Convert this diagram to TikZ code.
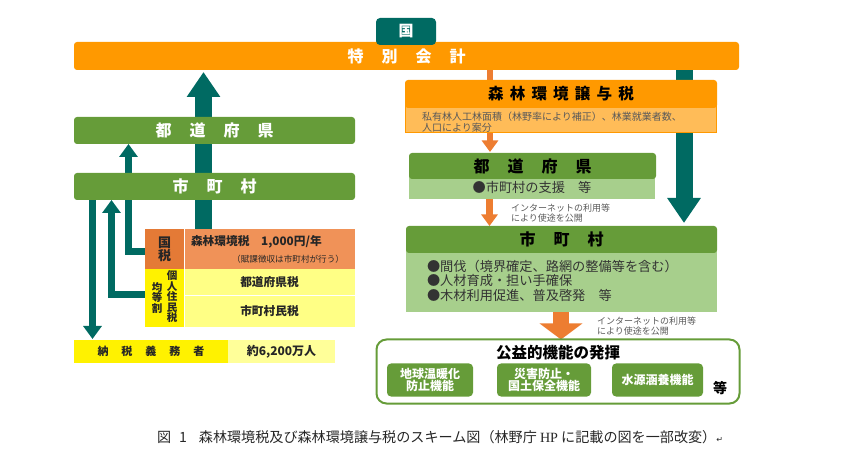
\documentclass[tikz,border=0pt]{standalone}
\usepackage{fontspec}
\setmainfont{Noto Sans CJK JP}
\newfontfamily\symfont{DejaVu Sans}
\newfontfamily\latinserif{Liberation Serif}
\usetikzlibrary{arrows.meta,backgrounds}
\definecolor{spOrange}{HTML}{FF9900}
\definecolor{leaf}{HTML}{669C39}
\definecolor{paleLeaf}{HTML}{A7CF8C}
\definecolor{deepTeal}{HTML}{006A62}
\definecolor{arrowOrange}{HTML}{ED7D31}
\definecolor{taxDark}{HTML}{E47A36}
\definecolor{taxLight}{HTML}{F09258}
\definecolor{paleOrange}{HTML}{FFBC58}
\definecolor{paleYellow}{HTML}{FFFF85}
\definecolor{paleYellowB}{HTML}{FFFF99}
\definecolor{softGray}{HTML}{5A5A5A}
\newcommand{\wsA}{\hspace{18pt}}
\newcommand{\wsB}{\hspace{6.2pt}}
\newcommand{\wsC}{\hspace{13pt}}
\newcommand{\fs}[1]{\fontsize{#1pt}{#1pt}\selectfont}
\tikzset{
  box/.style={inner sep=0pt,outer sep=0pt,align=center},
  bar/.style={box,fill=leaf,rounded corners=3pt,text=white,font=\fs{16}\bfseries},
  darkbar/.style={box,fill=leaf,rounded corners=3pt,text=black,font=\fs{16}\bfseries},
  pale/.style={box,fill=paleLeaf,text=black},
  cell/.style={box,text=black!85,font=\fs{11.7}\bfseries},
  fn/.style={box,fill=leaf,rounded corners=4pt,text=white,font=\fs{12}\bfseries},
  lbl/.style={inner sep=0pt,outer sep=0pt,align=left},
  note/.style={lbl,text=softGray,font=\fs{9}},
  tealbig/.style={draw=deepTeal,line width=17pt,-{Triangle[width=32pt,length=25pt,fill=deepTeal]}},
  tealthin/.style={draw=deepTeal,line width=7pt,-{Triangle[width=18pt,length=13pt,fill=deepTeal]}},
  orangethin/.style={draw=arrowOrange,line width=6.5pt,-{Triangle[width=16pt,length=11.5pt,fill=arrowOrange]}},
  orangebig/.style={draw=arrowOrange,line width=16pt,-{Triangle[width=42pt,length=16pt,fill=arrowOrange]}},
}
\begin{document}
\begin{tikzpicture}[x=1pt,y=-1pt]
\useasboundingbox (0,0) rectangle (841,454);
% top
\node[box,fill=spOrange,rounded corners=3pt,minimum width=665pt,minimum height=28pt,text=white,font=\fs{16}\bfseries] (special) at (406.5,56) {特\wsA 別\wsA 会\wsA 計};
\node[box,fill=deepTeal,rounded corners=4pt,minimum width=60pt,minimum height=27pt,text=white,font=\fs{15}\bfseries] (kuni) at (406,31.5) {国};
% left
\node[bar,minimum width=281pt,minimum height=27pt] (prefL) at (214.5,130.5) {都\wsA 道\wsA 府\wsA 県};
\node[bar,minimum width=281pt,minimum height=27pt] (cityL) at (214.5,186.5) {市\wsA 町\wsA 村};
\node[box,fill=taxDark,minimum width=39pt,minimum height=40pt,text=black!85,font=\fs{13}\bfseries] (kz) at (164.5,249) {\baselineskip=12.5pt 国\\税};
\node[box,fill=taxLight,minimum width=170pt,minimum height=40pt] (forestTax) at (269.5,249) {};
\node[lbl,text=black!85,font=\fs{11.7}\bfseries,anchor=west] (forestTaxA) at (191,242) {森林環境税　1,000円/年};
\node[lbl,text=black!85,font=\fs{8.6},anchor=east] (forestTaxB) at (344,259) {（賦課徴収は市町村が行う）};
\node[box,fill=yellow,minimum width=39pt,minimum height=58pt] (zeiL) at (164.5,298) {};
\node[box,text=black!85,font=\fs{10.5}\bfseries] (kojin) at (172,297) {\baselineskip=10.4pt 個\\人\\住\\民\\税};
\node[box,text=black!85,font=\fs{10.5}\bfseries] (kinto) at (157,298) {\baselineskip=11pt 均\\等\\割};
\node[cell,fill=paleYellow,minimum width=170pt,minimum height=26pt] (prefTax) at (269.5,282) {都道府県税};
\node[cell,fill=paleYellow,minimum width=170pt,minimum height=31pt] (cityTax) at (269.5,311.5) {市町村民税};
\node[box,fill=yellow,minimum width=154pt,minimum height=23.5pt,text=black!85,font=\fs{11}\bfseries] (payer) at (151,351.75) {納\wsC 税\wsC 義\wsC 務\wsC 者};
\node[box,fill=paleYellowB,minimum width=107pt,minimum height=23.5pt,text=black!85,font=\fs{12}\bfseries] (payerN) at (281.5,351.75) {約6,200万人};
% right column
\node[box,fill=paleOrange,draw=spOrange,line width=1pt,minimum width=311pt,minimum height=33pt] (joyoB) at (561,116.5) {};
\node[box,fill=spOrange,rounded corners=3pt,minimum width=312pt,minimum height=28pt,text=black,font=\fs{15.5}\bfseries] (joyo) at (561,94) {森\wsB 林\wsB 環\wsB 境\wsB 譲\wsB 与\wsB 税};
\node[lbl,text=softGray,font=\fs{10},anchor=west] (joyoT1) at (422,117) {私有林人工林面積（林野率により補正）、林業就業者数、};
\node[lbl,text=softGray,font=\fs{10},anchor=west] (joyoT2) at (422,127.5) {人口により案分};
\node[pale,minimum width=246pt,minimum height=24pt,font=\fs{13.2},text=black!80] (prefRB) at (532,187) {●市町村の支援　等};
\node[darkbar,minimum width=247pt,minimum height=26pt] (prefR) at (532.5,166) {都\wsA 道\wsA 府\wsA 県};
\node[pale,minimum width=311pt,minimum height=65pt] (cityRB) at (561.5,279.5) {};
\node[darkbar,minimum width=311pt,minimum height=27pt] (cityR) at (561.5,239.5) {市\wsA 町\wsA 村};
\node[lbl,text=black!80,font=\fs{13.2},anchor=west] (cityT1) at (427,266.5) {●間伐（境界確定、路網の整備等を含む）};
\node[lbl,text=black!80,font=\fs{13.2},anchor=west] (cityT2) at (427,281) {●人材育成・担い手確保};
\node[lbl,text=black!80,font=\fs{13.2},anchor=west] (cityT3) at (427,295.5) {●木材利用促進、普及啓発　等};
\node[note,anchor=west] (netA1) at (511,208) {インターネットの利用等};
\node[note,anchor=west] (netA2) at (511,218) {により使途を公開};
\node[note,anchor=west] (netB1) at (597,321) {インターネットの利用等};
\node[note,anchor=west] (netB2) at (597,331) {により使途を公開};
% public benefit
\node[box,draw=leaf,line width=2pt,rounded corners=10pt,minimum width=363pt,minimum height=64pt] (pub) at (558,371.5) {};
\node[box,text=black,font=\fs{15.5}\bfseries] (pubT) at (558,353) {公益的機能の発揮};
\node[fn,minimum width=86pt,minimum height=33pt] (fnA) at (430,380) {\baselineskip=13.5pt 地球温暖化\\防止機能};
\node[fn,minimum width=94pt,minimum height=33pt] (fnB) at (544,380) {\baselineskip=13.5pt 災害防止・\\国土保全機能};
\node[fn,minimum width=91pt,minimum height=33pt] (fnC) at (657.5,380) {水源涵養機能};
\node[box,text=black,font=\fs{14}\bfseries] (etc) at (720,388) {等};
% caption
\node[lbl,text=black!85,font=\fs{14.1},anchor=west] (cap) at (157,437) {図\hspace{8pt}1\hspace{12pt}森林環境税及び森林環境譲与税のスキーム図（林野庁 {\latinserif HP} に記載の図を一部改変）{\symfont\fs{8}↵}};
% connectors
\coordinate (xBig) at (203.5,0);
\coordinate (xA) at (128.5,0);
\coordinate (xB) at (111.5,0);
\coordinate (xC) at (92.5,0);
\coordinate (xD) at (490,0);
\coordinate (xE) at (684,0);
\coordinate (xF) at (489.5,0);
\coordinate (xG) at (561,0);
\begin{scope}[on background layer]
  \draw[tealbig,shorten >=2pt] (xBig |- forestTax.north) -- (xBig |- special.south);
  \draw[tealthin] ([yshift=-2.5pt]kz.west) -| (xA |- prefL.south);
  \draw[tealthin] ([yshift=3pt]zeiL.west) -| (xB |- cityL.south);
  \draw[tealthin,shorten >=1pt] (xC |- cityL.south) -- (xC |- payer.north);
  \draw[tealbig,shorten >=3pt] (xE |- special.south) -- (xE |- cityR.north);
  \draw[draw=arrowOrange,line width=6.5pt] (xD |- special.south) -- (xD |- joyo.north);
  \draw[orangethin,shorten >=1pt] (xD |- joyoB.south) -- (xD |- prefR.north);
  \draw[orangethin] (xF |- prefRB.south) -- (xF |- cityR.north);
  \draw[orangebig] (xG |- cityRB.south) -- (xG |- pub.north);
\end{scope}
\end{tikzpicture}
\end{document}
